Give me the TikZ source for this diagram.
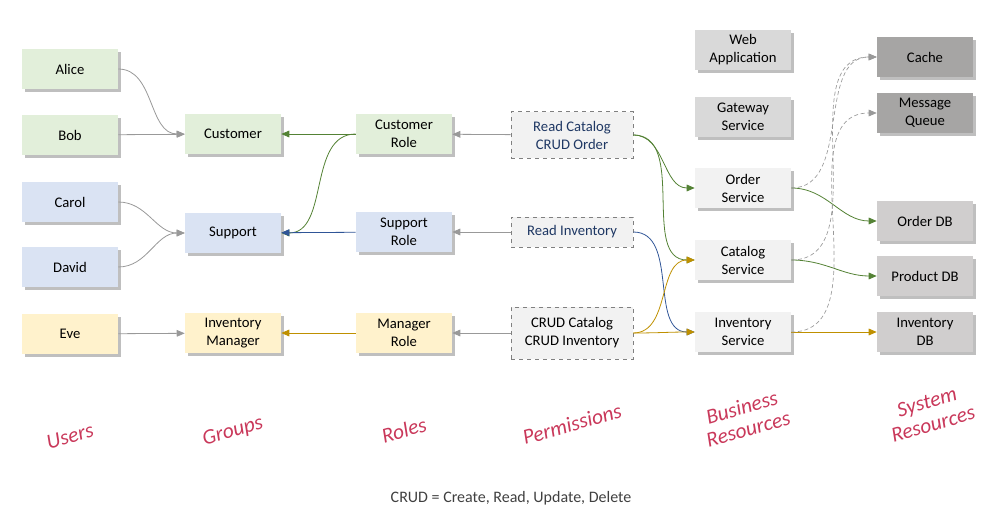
\documentclass[tikz,border=0pt]{standalone}
\usepackage{fontspec}
\setmainfont{Carlito}
\usetikzlibrary{arrows.meta,shadows}
\definecolor{grnfill}{HTML}{E2EFDA}
\definecolor{blufill}{HTML}{DAE3F3}
\definecolor{ylwfill}{HTML}{FFF2CC}
\definecolor{srvfill}{HTML}{F2F2F2}
\definecolor{appfill}{HTML}{D9D9D9}
\definecolor{sysfill}{HTML}{A6A5A4}
\definecolor{dbfill}{HTML}{D0CECE}
\definecolor{permtext}{HTML}{1F3864}
\definecolor{grnline}{HTML}{548235}
\definecolor{bluline}{HTML}{2F5597}
\definecolor{goldline}{HTML}{BF9000}
\definecolor{catred}{HTML}{C9385A}
\begin{document}
\begin{tikzpicture}[x=0.75pt,y=-0.75pt,
  box/.style={rectangle,align=center,inner sep=2pt,minimum width=72pt,minimum height=30pt,
    font=\fontsize{11}{13.5}\selectfont,
    drop shadow={shadow xshift=2pt,shadow yshift=-2pt,fill=black,opacity=0.25}},
  perm/.style={rectangle,align=center,inner sep=2pt,minimum width=91.5pt,draw=gray,dashed,
    fill=srvfill,text=permtext,font=\fontsize{11}{13.5}\selectfont},
  cat/.style={align=center,rotate=16,text=catred,font=\fontsize{16}{17}\selectfont\itshape},
  link/.style={line width=0.6pt,-{Triangle[length=6pt,width=5pt]}},
  grayarr/.style={link,draw=gray!80},
  grnarr/.style={link,draw=grnline},
  bluarr/.style={link,draw=bluline},
  goldarr/.style={link,draw=goldline},
  dotarr/.style={link,draw=gray!80,densely dashed,line width=0.5pt}]
  \useasboundingbox (0,0) rectangle (1003,524);
  \node[box,fill=grnfill] (alice) at (70,69) {Alice};
  \node[box,fill=grnfill] (bob) at (70,135) {Bob};
  \node[box,fill=blufill] (carol) at (70,202) {Carol};
  \node[box,fill=blufill] (david) at (70,267) {David};
  \node[box,fill=ylwfill] (eve) at (70,334) {Eve};
  \node[box,fill=grnfill] (cust) at (233,134) {Customer};
  \node[box,fill=blufill] (sup) at (233,233) {Support};
  \node[box,fill=ylwfill] (invmgr) at (233,333) {Inventory\\Manager};
  \node[box,fill=grnfill] (custrole) at (404,134) {Customer\\Role};
  \node[box,fill=blufill] (suprole) at (404,232) {Support\\Role};
  \node[box,fill=ylwfill] (mgrrole) at (404,333) {Manager\\Role};
  \node[perm,minimum height=35pt] (permcust) at (572,135) {Read Catalog\\CRUD Order};
  \node[perm,minimum height=22.5pt] (permsup) at (572,232) {Read Inventory};
  \node[perm,minimum height=39pt,text=black] (permmgr) at (572,333) {CRUD Catalog\\CRUD Inventory};
  \node[box,fill=appfill] (webapp) at (743,50) {Web\\Application};
  \node[box,fill=appfill] (gateway) at (743,117) {Gateway\\Service};
  \node[box,fill=srvfill] (ordersrv) at (743,188) {Order\\Service};
  \node[box,fill=srvfill] (catsrv) at (743,260) {Catalog\\Service};
  \node[box,fill=srvfill] (invsrv) at (743,332) {Inventory\\Service};
  \node[box,fill=sysfill] (cache) at (925,57) {Cache};
  \node[box,fill=sysfill] (queue) at (925,113) {Message\\Queue};
  \node[box,fill=dbfill] (orderdb) at (925,221) {Order DB};
  \node[box,fill=dbfill] (productdb) at (925,276) {Product DB};
  \node[box,fill=dbfill] (invdb) at (925,332) {Inventory\\DB};
  \node[cat] (users) at (70,436) {Users};
  \node[cat] (groups) at (233,432) {Groups};
  \node[cat] (roles) at (404,430) {Roles};
  \node[cat] (perms) at (572,424) {Permissions};
  \node[cat] (business) at (745,418) {Business\\Resources};
  \node[cat] (system) at (930,413) {System\\Resources};
  \node[text=black!75,font=\fontsize{12}{14}\selectfont] (crud) at (511,498) {CRUD = Create, Read, Update, Delete};
  \draw[grayarr] (alice.east) to[out=0,in=180] (cust.west);
  \draw[grayarr] (bob) -- (cust);
  \draw[grayarr] (carol.east) to[out=0,in=180] (sup.west);
  \draw[grayarr] (david.east) to[out=0,in=180] (sup.west);
  \draw[grayarr] (eve) -- (invmgr);
  \draw[grnarr] (custrole) -- (cust);
  \draw[grnarr] (custrole.west) to[out=180,in=0] (sup.east);
  \draw[bluarr] (suprole) -- (sup);
  \draw[goldarr] (mgrrole) -- (invmgr);
  \draw[grayarr] (permcust) -- (custrole);
  \draw[grayarr] (permsup) -- (suprole);
  \draw[grayarr] (permmgr) -- (mgrrole);
  \draw[grnarr] (permcust.east) to[out=0,in=180] (ordersrv.west);
  \draw[grnarr] (permcust.east) to[out=0,in=180] (catsrv.west);
  \draw[bluarr] (permsup.east) to[out=0,in=180] (invsrv.west);
  \draw[goldarr] (permmgr.east) to[out=0,in=180] (catsrv.west);
  \draw[goldarr] (permmgr.east) to[out=0,in=180] (invsrv.west);
  \draw[grnarr] (ordersrv.east) to[out=0,in=180] (orderdb.west);
  \draw[grnarr] (catsrv.east) to[out=0,in=180] (productdb.west);
  \draw[goldarr] (invsrv) -- (invdb);
  \draw[dotarr] (ordersrv.east) to[out=0,in=180] (cache.west);
  \draw[dotarr] (catsrv.east) to[out=0,in=180] (cache.west);
  \draw[dotarr] (invsrv.east) to[out=0,in=180] (queue.west);
\end{tikzpicture}
\end{document}
